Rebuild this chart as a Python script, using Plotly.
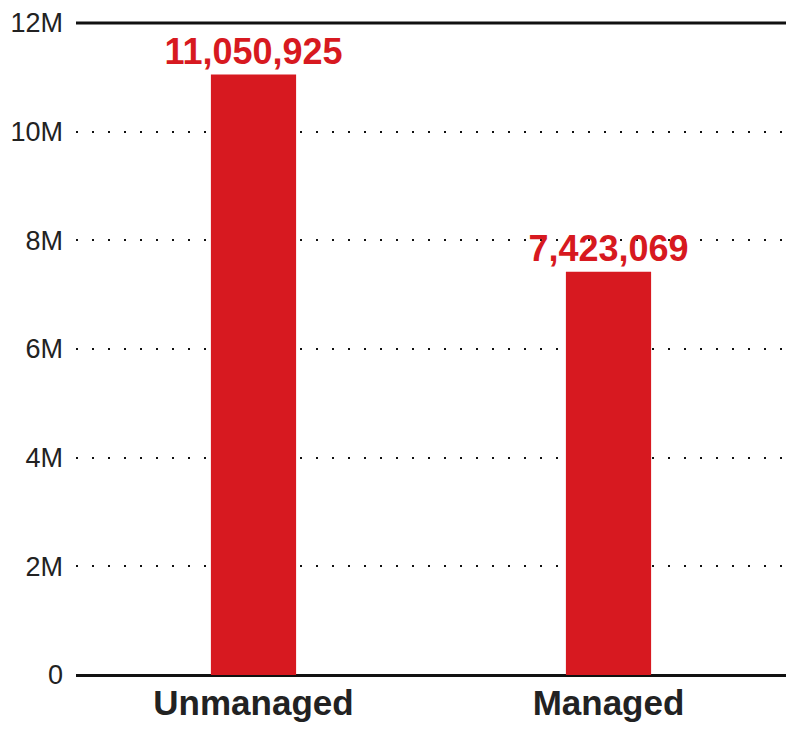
import plotly.graph_objects as go

categories = ["Unmanaged", "Managed"]
values = [11050925, 7423069]
value_labels = ["11,050,925", "7,423,069"]
tick_values = [0, 2e6, 4e6, 6e6, 8e6, 10e6, 12e6]
tick_labels = ["0", "2M", "4M", "6M", "8M", "10M", "12M"]

RED = "#d71920"
DARK = "#222222"

fig = go.Figure(go.Bar(
    x=categories, y=values,
    marker=dict(color=RED, line=dict(width=0)),
    text=value_labels, textposition="outside", constraintext="none",
    textfont=dict(family="Liberation Sans, Arial, sans-serif", size=36, color=RED, weight="bold"),
    cliponaxis=False,
))

# solid top rule at the top of the value range (12M)
fig.add_shape(type="line", xref="paper", x0=0, x1=1, yref="paper", y0=1, y1=1,
              line=dict(color="#111111", width=3), layer="above")

fig.update_layout(
    width=792, height=723,
    margin=dict(l=68, r=14, t=15, b=56),
    paper_bgcolor="white", plot_bgcolor="white",
    bargap=0.76,
    showlegend=False,
    xaxis=dict(
        showgrid=False, showline=False, zeroline=False, automargin=False,
        tickfont=dict(family="Liberation Sans, Arial, sans-serif", size=35, color=DARK, weight="bold"),
        ticks="", ticklabelstandoff=4,
    ),
    yaxis=dict(
        range=[0, 12e6], tickvals=tick_values, ticktext=tick_labels, automargin=False,
        showgrid=True, gridcolor="#111111", gridwidth=2, griddash="2px,14px",
        zeroline=True, zerolinecolor="#111111", zerolinewidth=3,
        showline=False, ticks="", ticklabelstandoff=12,
        tickfont=dict(family="Liberation Sans, Arial, sans-serif", size=27, color=DARK),
    ),
)

fig.write_html("out.html")
